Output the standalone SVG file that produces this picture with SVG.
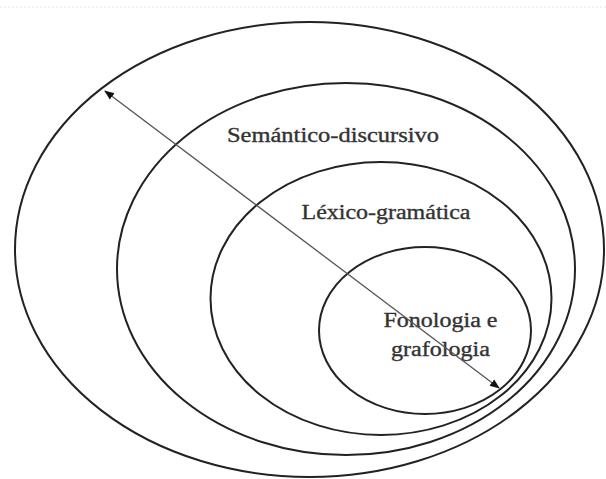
<svg xmlns="http://www.w3.org/2000/svg" width="606" height="479" viewBox="0 0 606 479">
<defs>
<style>
.ring{fill:none;stroke:#222;stroke-width:2}
.lbl{font-family:"Liberation Serif","Times New Roman",serif;font-size:20px;fill:#333;stroke:#333;stroke-width:0.35;text-anchor:middle}
.conn{stroke:#555;stroke-width:1.3;fill:none}
</style>
<marker id="ah" viewBox="0 0 10 10" refX="9" refY="5" markerWidth="10" markerHeight="10" markerUnits="userSpaceOnUse" orient="auto-start-reverse">
<path d="M0,1 L10,5 L0,9 Z" fill="#111"/>
</marker>
</defs>
<rect width="606" height="479" fill="#fff"/>
<line x1="0" y1="7" x2="606" y2="7" stroke="#e4e4e4" stroke-width="1" stroke-dasharray="2 2"/>
<g id="semantico">
<ellipse class="ring" cx="309.5" cy="249.5" rx="294.5" ry="227.5"/>
</g>
<g id="semantico-discursivo">
<ellipse class="ring" cx="346" cy="269" rx="229" ry="186"/>
<text class="lbl" x="333" y="142" textLength="212" lengthAdjust="spacingAndGlyphs">Semántico-discursivo</text>
</g>
<g id="lexico-gramatica">
<ellipse class="ring" cx="381" cy="298.5" rx="170.5" ry="136.5"/>
<text class="lbl" x="386" y="219" textLength="169" lengthAdjust="spacingAndGlyphs">Léxico-gramática</text>
</g>
<g id="fonologia">
<ellipse class="ring" cx="425" cy="330.5" rx="106" ry="83.5"/>
<text class="lbl" x="440.5" y="327" textLength="114" lengthAdjust="spacingAndGlyphs">Fonologia e</text>
<text class="lbl" x="440.5" y="356" textLength="99" lengthAdjust="spacingAndGlyphs">grafologia</text>
</g>
<g id="connectors">
<line class="conn" x1="105" y1="91" x2="499" y2="388" marker-start="url(#ah)" marker-end="url(#ah)"/>
</g>
</svg>
